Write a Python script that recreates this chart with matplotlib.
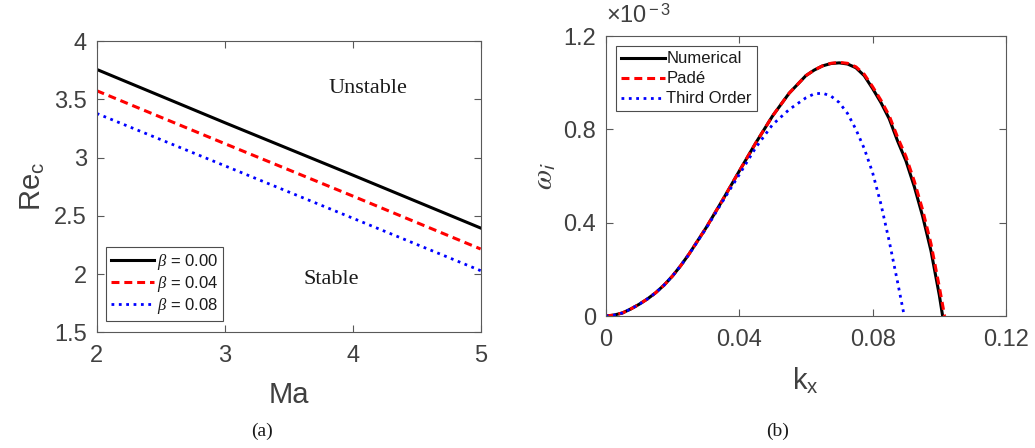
import matplotlib
matplotlib.use("Agg")
import matplotlib.pyplot as plt
import numpy as np

plt.rcParams['font.family'] = ['Liberation Sans', 'DejaVu Sans']
plt.rcParams['mathtext.fontset'] = 'custom'
plt.rcParams['mathtext.rm'] = 'Liberation Sans'
plt.rcParams['mathtext.it'] = 'Liberation Serif:italic'

# panel (a): critical Reynolds number vs Marangoni number
ma = [2, 3, 4, 5]
re_b000 = [3.757, 3.30, 2.85, 2.395]
re_b004 = [3.574, 3.12, 2.67, 2.215]
re_b008 = [3.379, 2.93, 2.48, 2.029]

# panel (b): growth rate (x 1e-3) vs wavenumber
kx_num = [0.0, 0.0025, 0.005, 0.0075, 0.01, 0.0125, 0.015, 0.0175, 0.02, 0.0225, 0.025,
          0.03, 0.035, 0.04, 0.045, 0.05, 0.055, 0.06, 0.0625, 0.065, 0.0675, 0.07,
          0.0725, 0.075, 0.0775, 0.08, 0.0825, 0.085, 0.0875, 0.09, 0.0925, 0.095,
          0.0975, 0.100, 0.101]
wi_num = [0.0, 0.004, 0.013, 0.030, 0.050, 0.073, 0.100, 0.1325, 0.171, 0.216, 0.266,
          0.376, 0.496, 0.620, 0.742, 0.857, 0.955, 1.030, 1.054, 1.072, 1.082, 1.085,
          1.080, 1.064, 1.030, 0.975, 0.915, 0.845, 0.750, 0.665, 0.555, 0.428,
          0.280, 0.090, 0.0]

kx_pade = [0.0, 0.0025, 0.005, 0.0075, 0.01, 0.0125, 0.015, 0.0175, 0.02, 0.0225, 0.025,
           0.03, 0.035, 0.04, 0.045, 0.05, 0.055, 0.06, 0.0625, 0.065, 0.0675, 0.07,
           0.0725, 0.075, 0.0775, 0.08, 0.0825, 0.085, 0.0875, 0.09, 0.0925, 0.095,
           0.0975, 0.100, 0.1016]
wi_pade = [0.0, 0.004, 0.013, 0.030, 0.050, 0.073, 0.100, 0.1325, 0.171, 0.216, 0.266,
           0.376, 0.496, 0.620, 0.742, 0.857, 0.955, 1.030, 1.054, 1.072, 1.083, 1.087,
           1.083, 1.068, 1.036, 0.983, 0.925, 0.858, 0.766, 0.684, 0.578, 0.455,
           0.310, 0.125, 0.0]

kx_third = [0.0, 0.0025, 0.005, 0.0075, 0.01, 0.0125, 0.015, 0.0175, 0.02, 0.0225, 0.025,
            0.03, 0.035, 0.04, 0.045, 0.05, 0.055, 0.0575, 0.06, 0.0625, 0.065, 0.0675,
            0.07, 0.0725, 0.075, 0.0775, 0.08, 0.0825, 0.085, 0.0875, 0.0895]
wi_third = [0.0, 0.004, 0.013, 0.030, 0.050, 0.073, 0.100, 0.1325, 0.171, 0.216, 0.265,
            0.373, 0.490, 0.605, 0.722, 0.820, 0.885, 0.910, 0.935, 0.952, 0.955, 0.943,
            0.915, 0.868, 0.800, 0.718, 0.615, 0.480, 0.320, 0.145, 0.0]

grey = '0.25'
fig = plt.figure(figsize=(10.35, 4.48), dpi=100)

ax1 = fig.add_axes([0.0934, 0.2583, 0.371, 0.650])
ax2 = fig.add_axes([0.5852, 0.2946, 0.3868, 0.625])

for ax in (ax1, ax2):
    for s in ax.spines.values():
        s.set_color('0.35')
        s.set_linewidth(0.8)
    ax.tick_params(direction='in', top=True, right=True, length=5, width=0.8,
                   color='0.35', labelsize=17, labelcolor=grey)
    ax.tick_params(axis='x', pad=9)
    ax.tick_params(axis='y', pad=7)

# (a)
ax1.plot(ma, re_b000, color='black', lw=2.2, label=r'$\beta$ = 0.00')
ax1.plot(ma, re_b004, color='red', lw=2.2, dashes=(2.6, 1.6), label=r'$\beta$ = 0.04')
ax1.plot(ma, re_b008, color='blue', lw=2, ls=':', label=r'$\beta$ = 0.08')
ax1.set_xlim(2, 5)
ax1.set_ylim(1.5, 4)
ax1.set_xticks([2, 3, 4, 5])
ax1.set_yticks([1.5, 2, 2.5, 3, 3.5, 4])
ax1.set_yticklabels(['1.5', '2', '2.5', '3', '3.5', '4'])
ax1.set_xlabel('Ma', fontsize=21, color=grey, labelpad=10)
ax1.set_ylabel(r'Re$_{\rm c}$', fontsize=21, color=grey, labelpad=5)
ax1.text(4.12, 3.59, 'Unstable', family='Liberation Serif', fontsize=16,
         ha='center', va='center', color='0.1')
ax1.text(3.83, 1.95, 'Stable', family='Liberation Serif', fontsize=16,
         ha='center', va='center', color='0.1')
leg1 = ax1.legend(loc='lower left', bbox_to_anchor=(0.024, 0.04), fontsize=12,
                  handlelength=2.6, handletextpad=0.15, borderpad=0.3,
                  labelspacing=0.12, fancybox=False, framealpha=1, borderaxespad=0)
leg1.get_frame().set_edgecolor('0.3')
leg1.get_frame().set_linewidth(0.8)
for t in leg1.get_texts():
    t.set_color('0.1')

# (b)
ax2.plot(kx_num, wi_num, color='black', lw=2.2, label='Numerical')
ax2.plot(kx_pade, wi_pade, color='red', lw=2.2, dashes=(2.6, 1.6), label='Padé')
ax2.plot(kx_third, wi_third, color='blue', lw=2, ls=':', label='Third Order')
ax2.set_xlim(0, 0.12)
ax2.set_ylim(0, 1.2)
ax2.set_xticks([0, 0.04, 0.08, 0.12])
ax2.set_xticklabels(['0', '0.04', '0.08', '0.12'])
ax2.set_yticks([0, 0.4, 0.8, 1.2])
ax2.set_yticklabels(['0', '0.4', '0.8', '1.2'])
ax2.set_xlabel(r'k$_{\rm x}$', fontsize=21, color=grey, labelpad=11)
ax2.set_ylabel(r'$\omega_{\mathsf{i}}$', fontsize=21, color=grey, labelpad=4,
               math_fontfamily='stix')
ax2.text(0.0, 1.03, r'$\times$10$^{\rm -3}$', transform=ax2.transAxes,
         fontsize=17, color=grey, ha='left', va='bottom')
leg2 = ax2.legend(loc='upper left', bbox_to_anchor=(0.027, 0.963), fontsize=12,
                  handlelength=2.6, handletextpad=0.1, borderpad=0.3,
                  labelspacing=0.3, fancybox=False, framealpha=1, borderaxespad=0)
leg2.get_frame().set_edgecolor('0.3')
leg2.get_frame().set_linewidth(0.8)
for t in leg2.get_texts():
    t.set_color('0.1')

fig.text(262 / 1035, 1 - 431 / 448, '(a)', family='Liberation Serif', fontsize=14,
         ha='center', va='center', color='0.1')
fig.text(778 / 1035, 1 - 431 / 448, '(b)', family='Liberation Serif', fontsize=14,
         ha='center', va='center', color='0.1')

fig.savefig('out.png', dpi=100)
